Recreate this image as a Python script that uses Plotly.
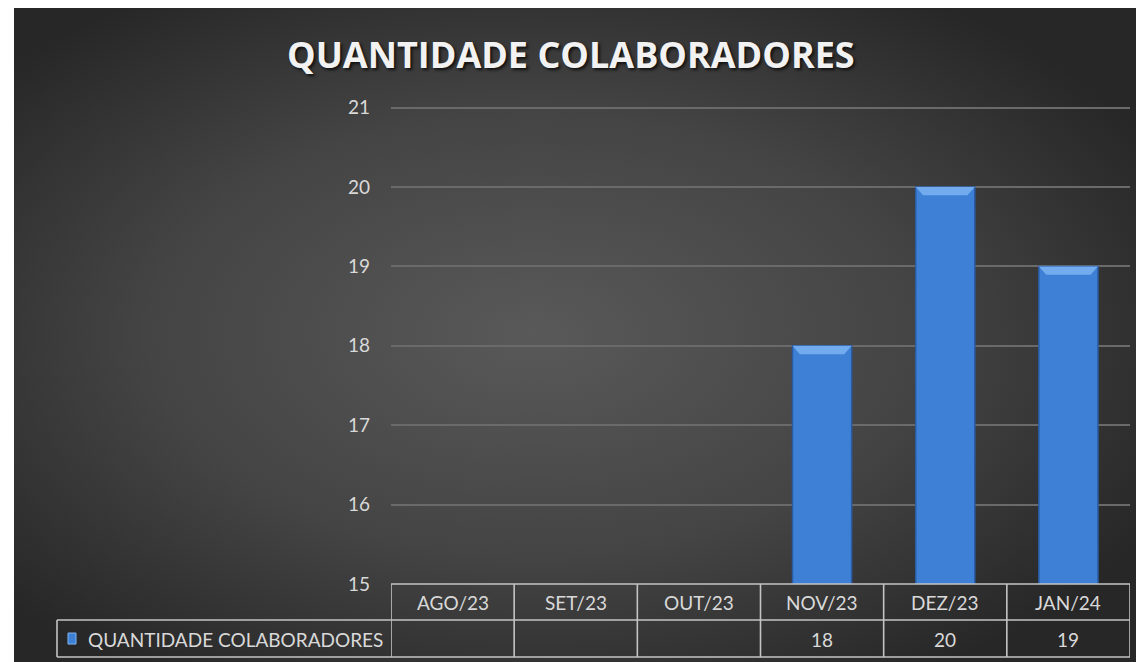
import base64
import plotly.graph_objects as go

# dados do gráfico
meses = ["AGO/23", "SET/23", "OUT/23", "NOV/23", "DEZ/23", "JAN/24"]
colaboradores = [None, None, None, 18, 20, 19]
serie = "QUANTIDADE COLABORADORES"
titulo = "QUANTIDADE COLABORADORES"
y_ticks = [15, 16, 17, 18, 19, 20, 21]
y_min, y_max = 15, 21

# a página tem 8px de margem no body
O = 8
W, H = 1144 - O, 662 - O
# área de plotagem em pixels da imagem de referência
L, R, Y21, B = 391, 1130, 108, 584
ppu = (B - Y21) / (y_max - y_min)
pad = 0.02
T = Y21 - pad * ppu


def px_x(p):
    return (p - L) / (R - L)


def px_y(p):
    return (B - p) / (B - T)


# fundo com gradiente radial (estilo Excel escuro)
svg = (
    '<svg xmlns="http://www.w3.org/2000/svg" width="1130" height="654">'
    '<defs><radialGradient id="g" cx="46%" cy="50%" r="62%">'
    '<stop offset="0" stop-color="#595959"/>'
    '<stop offset="0.55" stop-color="#444444"/>'
    '<stop offset="1" stop-color="#272727"/>'
    '</radialGradient></defs>'
    '<rect width="1130" height="654" fill="url(#g)"/></svg>'
)
bg_src = "data:image/svg+xml;base64," + base64.b64encode(svg.encode()).decode()

txt_color = "#d9d9d9"
line_color = "#c4c4c4"
font_fam = "Lato, 'Open Sans', sans-serif"
bar_w = 0.48

fig = go.Figure()
fig.add_trace(go.Bar(
    x=list(range(len(meses))),
    y=colaboradores,
    width=bar_w,
    marker=dict(color="#3d80d6", line=dict(color="#2a5ca4", width=1.5)),
    name=serie,
    showlegend=False,
    hoverinfo="skip",
))

shapes = []
annotations = []

# bisel no topo das barras
for i, v in enumerate(colaboradores):
    if v is None:
        continue
    h = 0.105
    a, b = bar_w / 2, bar_w / 2 - 0.06
    shapes.append(dict(
        type="path", xref="x", yref="y",
        path=f"M {i-a},{v} L {i+a},{v} L {i+b},{v-h} L {i-b},{v-h} Z",
        fillcolor="#72acee", line=dict(width=0), layer="above",
    ))

# tabela de dados abaixo do eixo
y0, y1, y2 = px_y(B), px_y(620), px_y(657)
lw = dict(color=line_color, width=1.6)
shapes.append(dict(type="line", xref="paper", yref="paper", x0=0, x1=1, y0=y0, y1=y0, line=lw))
shapes.append(dict(type="line", xref="paper", yref="paper", x0=px_x(57), x1=1, y0=y1, y1=y1, line=lw))
shapes.append(dict(type="line", xref="paper", yref="paper", x0=px_x(57), x1=1, y0=y2, y1=y2, line=lw))
shapes.append(dict(type="line", xref="paper", yref="paper", x0=px_x(57), x1=px_x(57), y0=y1, y1=y2, line=lw))
for k in range(len(meses) + 1):
    xb = k - 0.5
    shapes.append(dict(type="line", xref="x", yref="paper", x0=xb, x1=xb, y0=y0, y1=y2, line=lw))

for i, m in enumerate(meses):
    annotations.append(dict(x=i, y=px_y(602), xref="x", yref="paper", text=m,
                            xanchor="center", yanchor="middle", showarrow=False,
                            font=dict(size=19, color=txt_color, family=font_fam)))
    v = colaboradores[i]
    annotations.append(dict(x=i, y=px_y(639), xref="x", yref="paper",
                            text="" if v is None else str(v),
                            xanchor="center", yanchor="middle", showarrow=False,
                            font=dict(size=19, color=txt_color, family=font_fam)))

# legenda dentro da tabela
shapes.append(dict(type="rect", xref="paper", yref="paper",
                   x0=px_x(68), x1=px_x(76), y0=px_y(644), y1=px_y(633),
                   fillcolor="#3d80d6", line=dict(color="#7fb6f2", width=1)))
annotations.append(dict(x=px_x(86), y=px_y(639), xref="paper", yref="paper",
                        text=serie, xanchor="left", yanchor="middle", showarrow=False,
                        font=dict(size=19, color=txt_color, family=font_fam)))

# título
annotations.append(dict(x=px_x(571), y=px_y(55), xref="paper", yref="paper",
                        text=f"<b>{titulo}</b>", xanchor="center", yanchor="middle",
                        showarrow=False,
                        font=dict(size=36, color="#f2f2f2", family="'Open Sans', sans-serif",
                                  shadow="2px 2px 3px #111111")))

fig.update_layout(
    width=W, height=H,
    margin=dict(l=L - O, r=W - (R - O), t=T - O, b=H - (B - O)),
    paper_bgcolor="white",
    plot_bgcolor="rgba(0,0,0,0)",
    images=[dict(source=bg_src, xref="paper", yref="paper",
                 x=px_x(14), y=px_y(O), sizex=px_x(1144) - px_x(14), sizey=px_y(O) - px_y(662),
                 xanchor="left", yanchor="top", sizing="stretch", layer="below")],
    xaxis=dict(range=[-0.5, len(meses) - 0.5], showticklabels=False, showgrid=False,
               zeroline=False, showline=False),
    yaxis=dict(range=[y_min, y_max + pad], tickvals=y_ticks, showgrid=True, gridcolor="#6a6a6a",
               gridwidth=1.5, zeroline=False, showline=False, ticks="",
               ticklabelstandoff=20,
               tickfont=dict(size=19, color=txt_color, family=font_fam)),
    shapes=shapes,
    annotations=annotations,
    bargap=0.5,
)

fig.write_html("out.html")
